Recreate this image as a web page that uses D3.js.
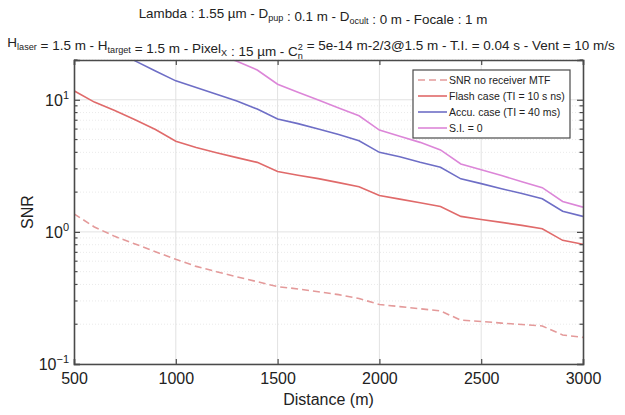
<!DOCTYPE html>
<html><head><meta charset="utf-8">
<script src="https://cdn.jsdelivr.net/npm/d3@7"></script>
<style>body{margin:0;background:#fff;} text{font-family:"Liberation Sans",Arial,sans-serif;}</style>
</head><body><svg id="c" width="625" height="415"></svg>
<script>
const distance = [500,600,700,800,900,1000,1100,1200,1300,1400,1500,1600,1700,1800,1900,2000,2100,2200,2300,2400,2500,2600,2700,2800,2900,3000];
const snrNoMTF = [1.37,1.09,0.925,0.81,0.708,0.62,0.548,0.50,0.457,0.42,0.385,0.37,0.352,0.335,0.313,0.282,0.272,0.262,0.252,0.215,0.21,0.204,0.199,0.194,0.166,0.159];
const flash = [11.7,9.6,8.3,7.05,5.95,4.85,4.35,3.97,3.65,3.36,2.86,2.68,2.53,2.36,2.20,1.886,1.77,1.66,1.557,1.31,1.24,1.18,1.12,1.057,0.863,0.805];
const accu = [35,28.5,24,19.7,16.5,13.9,12.4,11.0,9.8,8.5,7.15,6.6,6.0,5.45,4.9,4.0,3.7,3.36,3.08,2.52,2.32,2.12,1.95,1.78,1.435,1.31];
const si0 = [75,62,52,43,36,30,25.5,22.2,19.6,16.8,13.1,11.4,9.96,8.68,7.57,5.9,5.3,4.76,4.17,3.27,2.95,2.67,2.4,2.16,1.70,1.54];
const xTicks = [500,1000,1500,2000,2500,3000];
const yTicks = [0.1,1,10];
const seriesNames = ["SNR no receiver MTF","Flash case (TI = 10 s ns)","Accu. case (TI = 40 ms)","S.I. = 0"];
const seriesColors = ["#e49a9a","#e06a6a","#6e6ec6","#dc86d8"];
const seriesData = [snrNoMTF, flash, accu, si0];

const svg = d3.select("#c");
const L=74,R=583,T=60,B=364;
const x = d3.scaleLinear().domain([500,3000]).range([L,R]);
const y = d3.scaleLog().domain([0.1,20]).range([B,T]);
const minorY = [];
[0.1,1,10].forEach(d=>{for(let k=2;k<=9;k++){const v=d*k; if(v<=20) minorY.push(v);}});

// grid
const g = svg.append("g");
g.selectAll(".mg").data(minorY).join("line").attr("x1",L).attr("x2",R)
  .attr("y1",d=>y(d)).attr("y2",d=>y(d)).attr("stroke","#e4e4e4").attr("stroke-width",0.8).attr("stroke-dasharray","1,2");
g.selectAll(".gy").data(yTicks).join("line").attr("x1",L).attr("x2",R)
  .attr("y1",d=>y(d)).attr("y2",d=>y(d)).attr("stroke","#e2e2e2").attr("stroke-width",1);
g.selectAll(".gx").data(xTicks.slice(1,-1)).join("line").attr("y1",T).attr("y2",B)
  .attr("x1",d=>x(d)).attr("x2",d=>x(d)).attr("stroke","#e2e2e2").attr("stroke-width",1);

// lines
svg.append("clipPath").attr("id","clip").append("rect").attr("x",L).attr("y",T).attr("width",R-L).attr("height",B-T);
const line = d3.line().x((d,i)=>x(distance[i])).y(d=>y(d));
seriesData.forEach((s,i)=>{
  svg.append("path").datum(s).attr("d",line).attr("fill","none").attr("stroke",seriesColors[i])
    .attr("stroke-width",1.6).attr("clip-path","url(#clip)")
    .attr("stroke-dasharray", i===0?"7,4":null);
});

// axes
const ac="#4a4a4a";
const xb = svg.append("g").attr("transform",`translate(0,${B})`)
  .call(d3.axisBottom(x).tickValues(xTicks).tickSize(-5).tickPadding(9).tickFormat(d3.format("d")));
const xt = svg.append("g").attr("transform",`translate(0,${T})`)
  .call(d3.axisTop(x).tickValues(xTicks).tickSize(-5).tickFormat(""));
const yl = svg.append("g").attr("transform",`translate(${L},0)`)
  .call(d3.axisLeft(y).tickValues(yTicks).tickSize(-6).tickFormat(""));
const yr = svg.append("g").attr("transform",`translate(${R},0)`)
  .call(d3.axisRight(y).tickValues(yTicks).tickSize(-6).tickFormat(""));
[xb,xt,yl,yr].forEach(a=>{a.select(".domain").attr("stroke",ac).attr("stroke-width",1.6);
  a.selectAll(".tick line").attr("stroke",ac).attr("stroke-width",1.2);});
xb.selectAll(".tick text").attr("font-size",16).attr("fill","#222").attr("font-family","Liberation Sans, Arial, sans-serif");
// minor y ticks
[L,R].forEach((px,j)=>{
  svg.append("g").selectAll("line").data(minorY).join("line")
   .attr("x1",px).attr("x2",px+(j===0?3.5:-3.5)).attr("y1",d=>y(d)).attr("y2",d=>y(d))
   .attr("stroke",ac).attr("stroke-width",1.2);
});
// y tick labels with superscripts
yTicks.forEach(v=>{
  const e=Math.round(Math.log10(v));
  const t=svg.append("text").attr("x",L-5).attr("y",y(v)+6).attr("text-anchor","end").attr("font-size",16).attr("fill","#222");
  t.append("tspan").text("10");
  t.append("tspan").attr("dy",-7).attr("font-size",11).text(e<0?"\u2212"+(-e):String(e));
});

// axis labels
svg.append("text").attr("x",(L+R)/2).attr("y",405).attr("text-anchor","middle").attr("font-size",16).attr("fill","#222").text("Distance (m)");
svg.append("text").attr("transform",`translate(33,${(T+B)/2}) rotate(-90)`).attr("text-anchor","middle").attr("font-size",16).attr("fill","#222").text("SNR");

// titles
function rich(parent, parts, fs){
  parent.selectAll("tspan").remove();
  parent.attr("font-size",fs);
  const sz = fs*0.68;
  parts.forEach(p=>{
    if(typeof p==="string") parent.append("tspan").text(p);
    else if(p.stack){
      const a = parent.append("tspan").attr("font-size",sz).attr("dy",3).text(p.stack[0]);
      const w = a.node().getComputedTextLength();
      parent.append("tspan").attr("font-size",sz).attr("dx",-w).attr("dy",-9).text(p.stack[1]);
      parent.append("tspan").attr("dy",6).text("");
    } else {
      parent.append("tspan").attr("font-size",sz).attr("dy",p.sub?3:-5).text(p.sub||p.sup);
      parent.append("tspan").attr("dy",p.sub?-3:5).text("");
    }
  });
}
function fitTitle(yPos, parts, targetW, cx){
  const t = svg.append("text").attr("x",cx).attr("y",yPos).attr("text-anchor","middle").attr("fill","#222");
  let fs = 12;
  rich(t, parts, fs);
  for(let k=0;k<3;k++){
    const w = t.node().getBBox().width;
    fs = fs*targetW/w;
    rich(t, parts, fs);
  }
  return t;
}
fitTitle(18,["Lambda : 1.55 \u00b5m - D",{sub:"pup"}," :  0.1 m - D",{sub:"ocult"}," : 0 m - Focale : 1 m"], 349, 313);
fitTitle(47,["H",{sub:"laser"}," = 1.5 m - H",{sub:"target"}," = 1.5 m - Pixel",{sub:"X"}," : 15 \u00b5m - C",{stack:["n","2"]}," = 5e-14 m-2/3@1.5 m - T.I. = 0.04 s - Vent = 10 m/s"], 607, 311);

// legend
const lg = svg.append("g");
const lx=413, ly=70, lw=157, lh=68;
lg.append("rect").attr("x",lx).attr("y",ly).attr("width",lw).attr("height",lh).attr("fill","#fff").attr("stroke",ac).attr("stroke-width",1.2);
seriesNames.forEach((n,i)=>{
  const yy = ly+10+i*16;
  lg.append("line").attr("x1",lx+5).attr("x2",lx+34).attr("y1",yy).attr("y2",yy)
   .attr("stroke",seriesColors[i]).attr("stroke-width",1.6).attr("stroke-dasharray",i===0?"7,4":null);
  lg.append("text").attr("x",lx+36).attr("y",yy+4).attr("font-size",10.5).attr("fill","#222").text(n);
});
</script></body></html>
